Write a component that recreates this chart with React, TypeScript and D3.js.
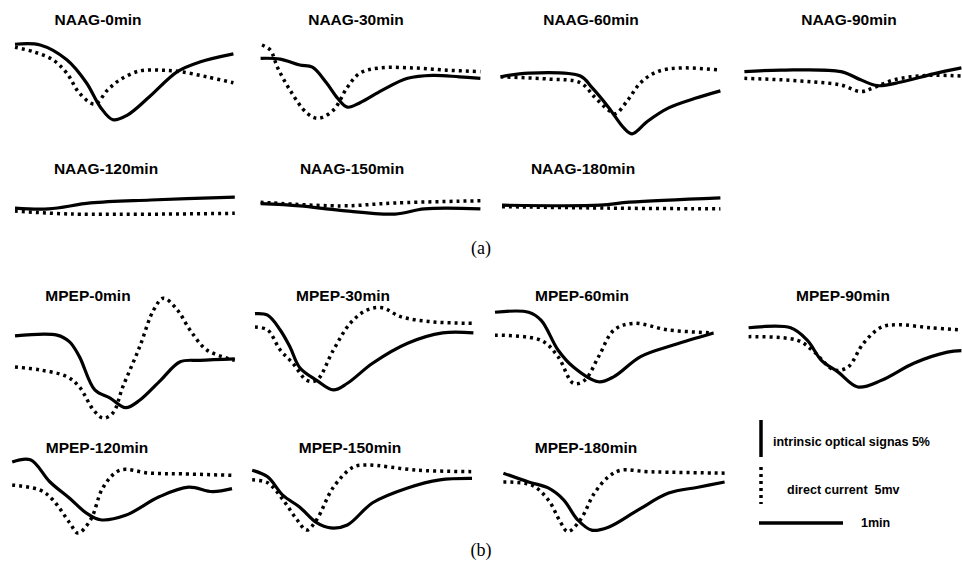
import React from "react";
import * as d3 from "d3";

// t = seconds, v = % (optical) / mV (direct current)
type Pt = [number, number];

const titles = [
  "NAAG-0min", "NAAG-30min", "NAAG-60min", "NAAG-90min",
  "NAAG-120min", "NAAG-150min", "NAAG-180min",
  "MPEP-0min", "MPEP-30min", "MPEP-60min", "MPEP-90min",
  "MPEP-120min", "MPEP-150min", "MPEP-180min",
];

const opticalNAAG: Pt[][] = [
  [[0, 0.1], [18, 0], [37, -2.0], [51, -5.1], [61, -8.4], [70, -10.1], [80, -9.5], [96, -7.0], [116, -3.6], [132, -2.3], [156, -1.2]],
  [[4, -1.8], [18, -1.9], [32, -2.7], [41, -3.0], [51, -5.1], [59, -7.2], [66, -8.4], [75, -7.8], [91, -6.1], [109, -4.5], [127, -4.1], [146, -4.3], [161, -4.5]],
  [[4, -4.3], [24, -3.8], [61, -4.2], [69, -5.7], [81, -8.4], [92, -11.2], [98, -12.0], [109, -10.3], [124, -8.5], [143, -7.2], [161, -6.2]],
  [[1, -3.6], [27, -3.4], [70, -3.6], [84, -4.7], [96, -5.5], [113, -5.0], [136, -3.9], [156, -3.1]],
  [[0, -1.1], [24, -1.2], [54, -0.4], [97, 0], [157, 0.4]],
  [[4, -0.5], [32, -0.8], [61, -1.4], [100, -1.9], [121, -1.2], [161, -1.2]],
  [[5, -0.7], [75, -0.7], [96, -0.3], [161, 0.3]],
];

const currentNAAG: Pt[][] = [
  [[0, -0.3], [13, -0.9], [27, -2.0], [37, -3.8], [46, -6.5], [57, -8.0], [66, -6.1], [75, -4.7], [89, -3.5], [104, -3.4], [118, -3.6], [137, -4.3], [156, -5.1]],
  [[5, 0], [11, -0.7], [16, -3.0], [25, -6.1], [37, -9.2], [45, -9.9], [56, -8.8], [66, -5.7], [75, -3.8], [89, -3.1], [113, -3.1], [137, -3.4], [161, -3.6]],
  [[4, -4.3], [38, -4.6], [61, -5.1], [71, -7.0], [81, -8.8], [86, -9.3], [95, -7.4], [104, -5.1], [116, -3.6], [133, -3.1], [161, -3.4]],
  [[1, -4.5], [27, -4.7], [51, -5.0], [70, -5.4], [84, -6.3], [93, -5.8], [108, -4.7], [132, -4.1], [156, -4.2]],
  [[0, -1.5], [41, -1.9], [157, -1.8]],
  [[4, -0.3], [61, -0.8], [100, -0.4], [161, -0.1]],
  [[5, -0.9], [82, -1.1], [161, -1.2]],
];

const opticalMPEP: Pt[][] = [
  [[0, -3.5], [30, -3.4], [39, -4.3], [46, -6.3], [57, -10.8], [68, -11.9], [79, -13.2], [89, -12.2], [104, -9.5], [118, -7.0], [132, -6.8], [157, -6.6]],
  [[0, -0.5], [9, -0.7], [18, -2.7], [25, -5.0], [32, -7.8], [44, -9.5], [56, -10.8], [66, -9.9], [84, -7.2], [109, -4.5], [134, -3.1], [156, -3.1]],
  [[0, -0.3], [24, -0.3], [33, -1.4], [45, -5.4], [56, -7.7], [74, -9.7], [85, -9.0], [104, -6.3], [128, -4.7], [156, -3.1]],
  [[4, -2.4], [34, -2.4], [46, -4.1], [56, -6.8], [68, -8.4], [82, -10.4], [99, -9.5], [122, -7.2], [146, -5.7], [156, -5.5]],
  [[-2, 0.4], [11, 0.7], [25, -2.3], [39, -4.5], [51, -6.5], [61, -7.4], [79, -6.8], [103, -4.3], [124, -3.0], [141, -3.6], [155, -3.2]],
  [[-2, -0.7], [9, -1.6], [20, -4.1], [32, -5.7], [44, -7.8], [54, -8.5], [66, -8.1], [84, -5.1], [109, -3.1], [132, -2.0], [155, -1.8]],
  [[6, -1.1], [24, -2.3], [38, -3.1], [49, -4.7], [59, -7.4], [69, -8.8], [81, -8.4], [102, -6.1], [124, -3.8], [145, -3.0], [164, -2.3]],
];

const currentMPEP: Pt[][] = [
  [[0, -7.7], [18, -8.1], [37, -9.0], [46, -10.4], [56, -13.5], [63, -14.6], [70, -13.9], [77, -10.4], [89, -5.0], [99, 0], [106, 1.6], [116, 0], [125, -2.7], [137, -5.4], [157, -6.8]],
  [[0, -2.3], [9, -2.7], [18, -5.4], [27, -7.2], [37, -9.5], [44, -9.5], [56, -5.4], [68, -1.8], [80, 0], [91, 0.3], [104, -0.9], [127, -1.6], [156, -1.8]],
  [[0, -3.4], [33, -4.1], [45, -6.3], [56, -9.9], [64, -9.5], [74, -6.3], [85, -2.7], [99, -1.8], [124, -2.7], [156, -3.1]],
  [[4, -3.6], [39, -4.1], [51, -5.7], [65, -8.1], [75, -7.7], [86, -4.5], [99, -2.3], [111, -2.0], [134, -2.4], [156, -2.7]],
  [[-2, -2.7], [18, -3.4], [27, -4.7], [39, -7.8], [45, -9.2], [54, -7.4], [63, -3.0], [75, -0.7], [96, -1.1], [120, -1.2], [155, -1.4]],
  [[-2, -2.0], [9, -2.4], [20, -4.7], [30, -7.4], [37, -8.8], [44, -7.4], [56, -3.0], [70, -0.3], [80, 0], [116, -0.7], [155, -0.9]],
  [[6, -2.3], [26, -2.7], [38, -4.7], [47, -7.8], [52, -9.0], [61, -7.4], [71, -3.8], [81, -1.6], [90, -0.7], [109, -0.9], [164, -1.1]],
];

const legendLabels = ["intrinsic optical signas 5%", "direct current  5mv", "1min"];
const scaleBar = { percent: 5, mv: 5, seconds: 60 };

// layout
const colX = [15, 255, 495, 743];
const rowY = [45, 200, 310, 465];
const titleX = [98, 356, 591, 849, 106, 352, 583, 88, 343, 582, 843, 97, 350, 586];
const titleY = [25, 25, 25, 25, 174, 174, 174, 301, 301, 301, 301, 453, 453, 453];

const x = d3.scaleLinear().domain([0, 60]).range([0, 84]);
const y = d3.scaleLinear().domain([0, 5]).range([0, -37]);
const lineGen = d3
  .line<Pt>()
  .x((d) => x(d[0]))
  .y((d) => y(d[1]))
  .curve(d3.curveCatmullRom.alpha(0.5));

const titleFont = "'Liberation Sans', Arial, sans-serif";
const serifFont = "'Liberation Serif', 'DejaVu Serif', serif";

export default function App() {
  const optical = [...opticalNAAG, ...opticalMPEP];
  const current = [...currentNAAG, ...currentMPEP];
  const slots = [
    [0, 0], [1, 0], [2, 0], [3, 0],
    [0, 1], [1, 1], [2, 1],
    [0, 2], [1, 2], [2, 2], [3, 2],
    [0, 3], [1, 3], [2, 3],
  ];
  return (
    <svg
      width={962}
      height={573}
      style={{ position: "absolute", left: 0, top: 0, background: "#fff" }}
    >
      {slots.map(([c, r], i) => (
        <g key={i}>
          <text
            x={titleX[i]}
            y={titleY[i]}
            textAnchor="middle"
            fontFamily={titleFont}
            fontWeight="bold"
            fontSize={15.5}
          >
            {titles[i]}
          </text>
          <g transform={`translate(${colX[c]},${rowY[r]})`}>
            <path
              d={lineGen(current[i]) || ""}
              fill="none"
              stroke="#000"
              strokeWidth={3.5}
              strokeDasharray="3 4"
            />
            <path
              d={lineGen(optical[i]) || ""}
              fill="none"
              stroke="#000"
              strokeWidth={3.2}
              strokeLinejoin="round"
            />
          </g>
        </g>
      ))}

      {/* scale bars */}
      <g transform="translate(761,420)">
        <line x1={0} x2={0} y1={0} y2={-y(scaleBar.percent)} stroke="#000" strokeWidth={3.5} />
        <text x={12} y={26} fontFamily={titleFont} fontWeight="bold" fontSize={12.5}>
          {legendLabels[0]}
        </text>
      </g>
      <g transform="translate(761,467)">
        <line x1={0} x2={0} y1={0} y2={-y(scaleBar.mv)} stroke="#000" strokeWidth={3.5} strokeDasharray="3 4" />
        <text x={26} y={27} fontFamily={titleFont} fontWeight="bold" fontSize={12.5} style={{ whiteSpace: "pre" }}>
          {legendLabels[1]}
        </text>
      </g>
      <g transform="translate(759,523)">
        <line x1={0} x2={x(scaleBar.seconds)} y1={0} y2={0} stroke="#000" strokeWidth={3.5} />
        <text x={102} y={4} fontFamily={titleFont} fontWeight="bold" fontSize={12.5}>
          {legendLabels[2]}
        </text>
      </g>

      <text x={481} y={254} textAnchor="middle" fontFamily={serifFont} fontSize={18}>
        (a)
      </text>
      <text x={481} y={556} textAnchor="middle" fontFamily={serifFont} fontSize={18}>
        (b)
      </text>
    </svg>
  );
}
